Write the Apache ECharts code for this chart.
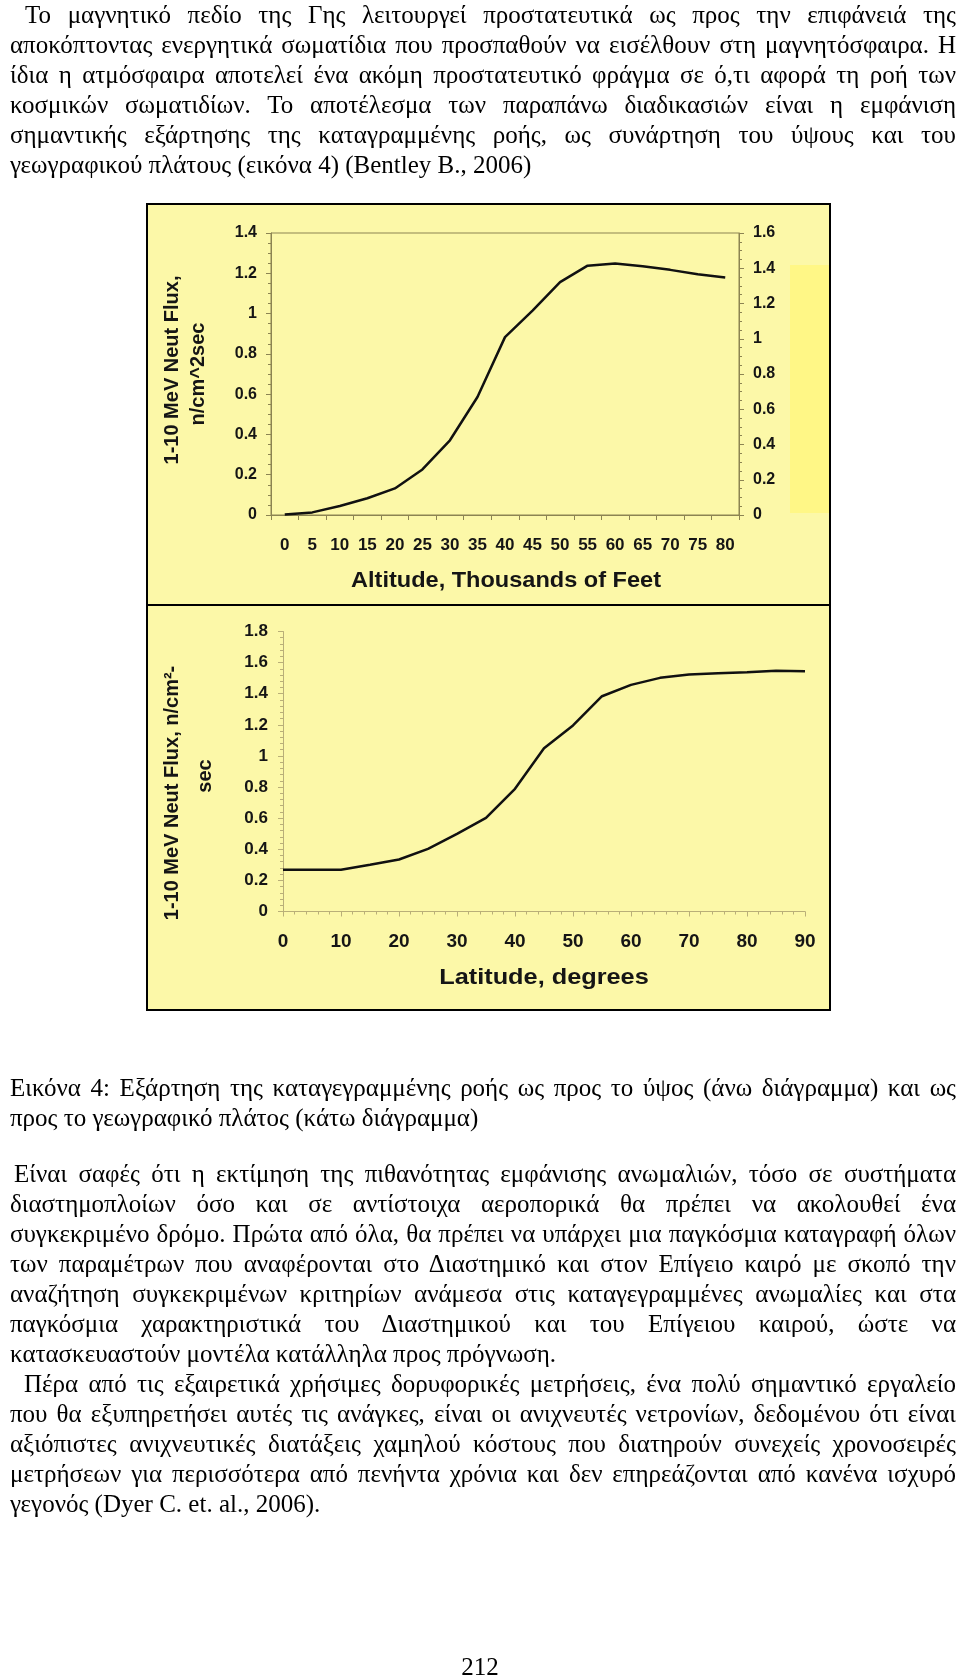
<!DOCTYPE html>
<html>
<head>
<meta charset="utf-8">
<script src="https://cdn.jsdelivr.net/npm/echarts@6/dist/echarts.min.js"></script>
<style>
html,body{margin:0;padding:0;background:#fff;}
body{width:960px;height:1678px;position:relative;overflow:hidden;}
#chart{position:absolute;left:0;top:0;width:960px;height:1678px;}
.ln{position:absolute;left:10px;width:946px;height:30px;line-height:30px;font-family:"Liberation Serif","Times New Roman",serif;font-size:25px;color:#000;white-space:nowrap;text-align:justify;text-align-last:justify;}
.ln.last{text-align:left;text-align-last:left;}
.pg{position:absolute;left:0;width:960px;top:1652px;height:30px;line-height:30px;text-align:center;font-family:"Liberation Serif","Times New Roman",serif;font-size:25px;color:#000;}
</style>
</head>
<body>
<div id="chart"></div>
<div id="text"></div>
<script>
// ---- data ----
const altitudeLabels = ['0','5','10','15','20','25','30','35','40','45','50','55','60','65','70','75','80'];
const altitudeFlux = [0.003, 0.013, 0.045, 0.083, 0.132, 0.226, 0.371, 0.586, 0.883, 1.015, 1.156, 1.238, 1.248, 1.235, 1.217, 1.195, 1.179];
const latitudeDeg = [0, 5, 10, 15, 20, 25, 30, 35, 40, 45, 50, 55, 60, 65, 70, 75, 80, 85, 90];
const latitudeFlux = [0.268, 0.268, 0.268, 0.300, 0.334, 0.403, 0.499, 0.602, 0.789, 1.050, 1.196, 1.384, 1.457, 1.502, 1.523, 1.532, 1.538, 1.547, 1.545];

const topTitleX = 'Altitude, Thousands of Feet';
const topTitleY1 = '1-10 MeV Neut Flux,';
const topTitleY2 = 'n/cm^2sec';
const botTitleX = 'Latitude, degrees';
const botTitleY1 = '1-10 MeV Neut Flux, n/cm²-';
const botTitleY2 = 'sec';

// ---- page text ----
const para1 = [
  'Το μαγνητικό πεδίο της Γης λειτουργεί προστατευτικά ως προς την επιφάνειά της',
  'αποκόπτοντας ενεργητικά σωματίδια που προσπαθούν να εισέλθουν στη μαγνητόσφαιρα. Η',
  'ίδια η ατμόσφαιρα αποτελεί ένα ακόμη προστατευτικό φράγμα σε ό,τι αφορά τη ροή των',
  'κοσμικών σωματιδίων. Το αποτέλεσμα των παραπάνω διαδικασιών είναι η εμφάνιση',
  'σημαντικής εξάρτησης της καταγραμμένης ροής, ως συνάρτηση του ύψους και του',
  'γεωγραφικού πλάτους (εικόνα 4) (Bentley B., 2006)'
];
const caption = [
  'Εικόνα 4: Εξάρτηση της καταγεγραμμένης ροής ως προς το ύψος (άνω διάγραμμα) και ως',
  'προς το γεωγραφικό πλάτος (κάτω διάγραμμα)'
];
const para2 = [
  'Είναι σαφές ότι  η εκτίμηση της πιθανότητας εμφάνισης ανωμαλιών, τόσο σε συστήματα',
  'διαστημοπλοίων όσο και σε αντίστοιχα αεροπορικά θα πρέπει να ακολουθεί ένα',
  'συγκεκριμένο δρόμο. Πρώτα από όλα, θα πρέπει να υπάρχει μια παγκόσμια καταγραφή όλων',
  'των παραμέτρων που αναφέρονται στο Διαστημικό και στον Επίγειο καιρό με σκοπό την',
  'αναζήτηση συγκεκριμένων κριτηρίων ανάμεσα στις καταγεγραμμένες ανωμαλίες και στα',
  'παγκόσμια χαρακτηριστικά του Διαστημικού και του Επίγειου καιρού, ώστε να',
  'κατασκευαστούν μοντέλα κατάλληλα προς πρόγνωση.'
];
const para3 = [
  'Πέρα από τις εξαιρετικά χρήσιμες δορυφορικές μετρήσεις, ένα πολύ σημαντικό εργαλείο',
  'που θα εξυπηρετήσει αυτές τις ανάγκες, είναι οι ανιχνευτές νετρονίων, δεδομένου ότι είναι',
  'αξιόπιστες ανιχνευτικές διατάξεις χαμηλού κόστους που διατηρούν συνεχείς χρονοσειρές',
  'μετρήσεων για περισσότερα από πενήντα χρόνια και δεν επηρεάζονται από κανένα ισχυρό',
  'γεγονός (Dyer C. et. al., 2006).'
];
const pageNumber = '212';

function addPara(lines, top, indent) {
  const host = document.getElementById('text');
  lines.forEach((t, i) => {
    const d = document.createElement('div');
    d.className = 'ln' + (i === lines.length - 1 ? ' last' : '');
    d.style.top = (top + i * 30) + 'px';
    if (i === 0 && indent) { d.style.left = (10 + indent) + 'px'; d.style.width = (946 - indent) + 'px'; }
    d.textContent = t;
    host.appendChild(d);
    if (d.scrollWidth > d.clientWidth + 1) {
      const over = d.scrollWidth - d.clientWidth + 2;
      d.style.letterSpacing = (-over / t.length) + 'px';
    }
  });
}
addPara(para1, 0, 15);
addPara(caption, 1073, 0);
addPara(para2, 1159, 4);
addPara(para3, 1369, 14);
const pg = document.createElement('div'); pg.className = 'pg'; pg.textContent = pageNumber;
document.getElementById('text').appendChild(pg);

// ---- chart ----
const BG = '#FCF8A8';
const STRIP = '#FFF786';
const AX = '#8C8452';
const AX2 = '#B9AF78';
const TXT = '#151515';
const SANS = '"Liberation Sans", Arial, sans-serif';

const chart = echarts.init(document.getElementById('chart'), null, {renderer: 'canvas'});
const lab = (size, margin) => ({fontSize: size, fontWeight: 'bold', color: TXT, fontFamily: SANS, margin: margin});

const option = {
  animation: false,
  backgroundColor: 'transparent',
  graphic: [
    {type: 'rect', z: -20, shape: {x: 147, y: 204, width: 683, height: 401}, style: {fill: BG, stroke: '#000', lineWidth: 2}},
    {type: 'rect', z: -20, shape: {x: 147, y: 605, width: 683, height: 405}, style: {fill: BG, stroke: '#000', lineWidth: 2}},
    {type: 'rect', z: -19, shape: {x: 790, y: 265, width: 39, height: 248}, style: {fill: STRIP}},
    {type: 'text', z: 50, x: 172, y: 370, rotation: Math.PI / 2, style: {text: topTitleY1, font: 'bold 20px ' + SANS, fill: TXT, align: 'center', verticalAlign: 'middle'}},
    {type: 'text', z: 50, x: 198, y: 374, rotation: Math.PI / 2, style: {text: topTitleY2, font: 'bold 20px ' + SANS, fill: TXT, align: 'center', verticalAlign: 'middle'}},
    {type: 'text', z: 50, x: 506, y: 581, scaleX: 1.07, style: {text: topTitleX, font: 'bold 22px ' + SANS, fill: TXT, align: 'center', verticalAlign: 'middle'}},
    {type: 'text', z: 50, x: 172, y: 793, rotation: Math.PI / 2, style: {text: botTitleY1, font: 'bold 20px ' + SANS, fill: TXT, align: 'center', verticalAlign: 'middle'}},
    {type: 'text', z: 50, x: 205, y: 776, rotation: Math.PI / 2, style: {text: botTitleY2, font: 'bold 20px ' + SANS, fill: TXT, align: 'center', verticalAlign: 'middle'}},
    {type: 'text', z: 50, x: 544, y: 978, scaleX: 1.15, style: {text: botTitleX, font: 'bold 22px ' + SANS, fill: TXT, align: 'center', verticalAlign: 'middle'}}
  ],
  grid: [
    {left: 271, top: 233, width: 468, height: 282, show: true, borderColor: AX, borderWidth: 1, backgroundColor: 'transparent', containLabel: false},
    {left: 283, top: 631.5, width: 522, height: 280, containLabel: false}
  ],
  xAxis: [
    {type: 'category', gridIndex: 0, data: altitudeLabels, boundaryGap: true,
     axisLine: {show: true, lineStyle: {color: AX, width: 1}},
     axisTick: {show: true, length: 5, alignWithLabel: false, lineStyle: {color: AX}},
     axisLabel: Object.assign(lab(17, 22), {interval: 0}),
     splitLine: {show: false}},
    {type: 'value', gridIndex: 1, min: 0, max: 90, interval: 10,
     axisLine: {show: true, onZero: false, lineStyle: {color: AX2, width: 1}},
     axisTick: {show: true, length: 5, lineStyle: {color: AX2}},
     minorTick: {show: true, splitNumber: 5, length: 3, lineStyle: {color: AX2}},
     axisLabel: lab(19, 21),
     splitLine: {show: false}}
  ],
  yAxis: [
    {type: 'value', gridIndex: 0, position: 'left', min: 0, max: 1.4, interval: 0.2,
     axisLine: {show: true, lineStyle: {color: AX}},
     axisTick: {show: true, length: 5, lineStyle: {color: AX}},
     minorTick: {show: true, splitNumber: 4, length: 3, lineStyle: {color: AX}},
     axisLabel: lab(16, 14),
     splitLine: {show: false}},
    {type: 'value', gridIndex: 0, position: 'right', min: 0, max: 1.6, interval: 0.2,
     axisLine: {show: true, lineStyle: {color: AX}},
     axisTick: {show: true, length: 5, lineStyle: {color: AX}},
     minorTick: {show: true, splitNumber: 4, length: 3, lineStyle: {color: AX}},
     axisLabel: lab(16, 14),
     splitLine: {show: false}},
    {type: 'value', gridIndex: 1, position: 'left', min: 0, max: 1.8, interval: 0.2,
     axisLine: {show: true, onZero: false, lineStyle: {color: AX2}},
     axisTick: {show: true, length: 5, lineStyle: {color: AX2}},
     minorTick: {show: true, splitNumber: 5, length: 3, lineStyle: {color: AX2}},
     axisLabel: lab(17, 15),
     splitLine: {show: false}}
  ],
  series: [
    {type: 'line', xAxisIndex: 0, yAxisIndex: 0, data: altitudeFlux, symbol: 'none', smooth: false,
     lineStyle: {color: '#111', width: 2.5}, z: 5},
    {type: 'line', xAxisIndex: 1, yAxisIndex: 2, data: latitudeDeg.map((d, i) => [d, latitudeFlux[i]]), symbol: 'none', smooth: false,
     lineStyle: {color: '#111', width: 2.5}, z: 5}
  ]
};
chart.setOption(option);
</script>
</body>
</html>
